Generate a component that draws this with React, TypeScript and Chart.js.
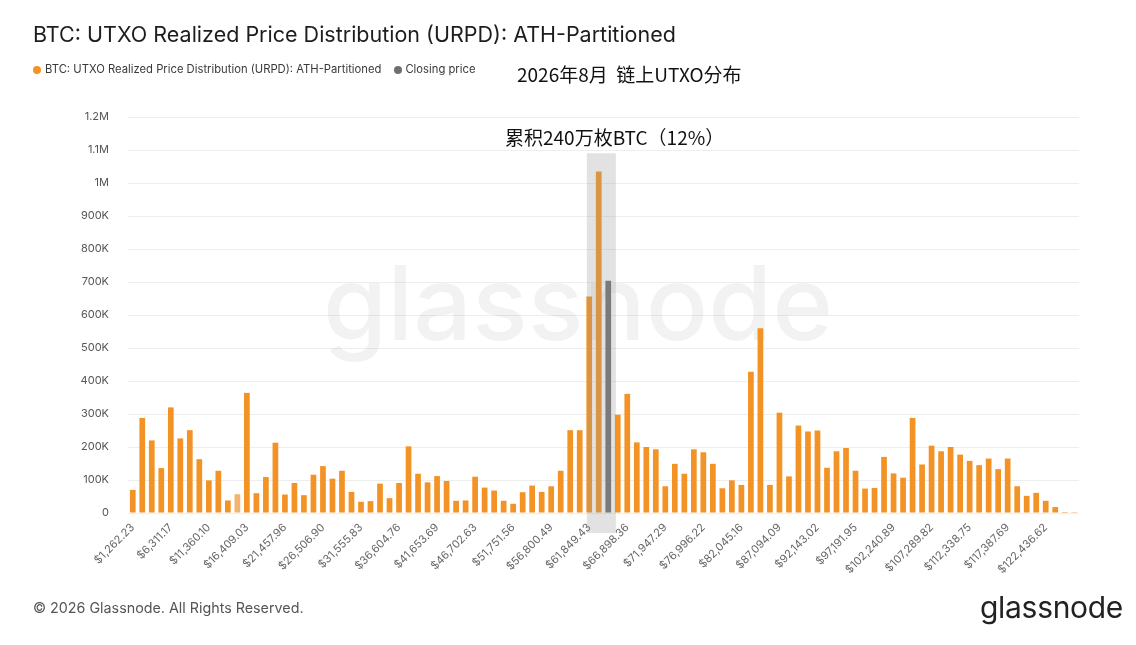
import React, { useEffect, useRef } from "react";
import { Chart, registerables } from "chart.js";

Chart.register(...registerables);

// URPD bins (100 bins from $0 to ATH), supply in BTC per bin
const URPD_VALUES: number[] = [
  70000, 288000, 220000, 136000, 320000, 226000, 251000, 163000, 99000, 128000,
  38000, 57000, 364000, 60000, 109000, 213000, 56000, 91000, 54000, 116000,
  142000, 104000, 128000, 64000, 34000, 36000, 89000, 45000, 91000, 202000,
  119000, 93000, 112000, 97000, 37000, 38000, 110000, 77000, 68000, 37000,
  28000, 63000, 83000, 64000, 81000, 128000, 251000, 251000, 656000, 1035000,
  704000, 298000, 361000, 214000, 200000, 193000, 81000, 149000, 119000, 193000,
  184000, 149000, 75000, 99000, 85000, 428000, 560000, 85000, 304000, 111000,
  265000, 247000, 250000, 137000, 187000, 197000, 128000, 74000, 76000, 170000,
  120000, 107000, 288000, 147000, 204000, 187000, 200000, 177000, 158000, 145000,
  165000, 133000, 165000, 81000, 52000, 61000, 37000, 18000, 3000, 500,
];

// index of the bin holding the closing price
const CLOSING_INDEX = 50;

// x tick labels, one every 4 bins
const TICK_LABELS: string[] = [
  "$1,262.23", "$6,311.17", "$11,360.10", "$16,409.03", "$21,457.96",
  "$26,506.90", "$31,555.83", "$36,604.76", "$41,653.69", "$46,702.63",
  "$51,751.56", "$56,800.49", "$61,849.43", "$66,898.36", "$71,947.29",
  "$76,996.22", "$82,045.16", "$87,094.09", "$92,143.02", "$97,191.95",
  "$102,240.89", "$107,289.82", "$112,338.75", "$117,387.69", "$122,436.62",
];
const TICK_EVERY = 4;

// highlighted bins (annotation band)
const BAND_FROM = 48;
const BAND_TO = 50;

const TITLE = "BTC: UTXO Realized Price Distribution (URPD): ATH-Partitioned";
const LEGEND_URPD = "BTC: UTXO Realized Price Distribution (URPD): ATH-Partitioned";
const LEGEND_CLOSE = "Closing price";
const NOTE_TOP = "2026年8月  链上UTXO分布";
const NOTE_BAND = "累积240万枚BTC（12%）";

const ORANGE = "#F39325";
const ORANGE_LIGHT = "#F3B46E";
const GREY = "#6F6F6F";

const FONT = "Inter, 'Noto Sans', sans-serif";
const CJK = "'Noto Sans CJK SC', 'Noto Sans', sans-serif";

const categories = URPD_VALUES.map((_, i) => String(i));

function fmtY(v: number): string {
  if (v === 0) return "0";
  if (v >= 1000000) return (v / 1000000).toString() + "M";
  return Math.round(v / 1000) + "K";
}

export default function App() {
  const ref = useRef<HTMLCanvasElement | null>(null);

  useEffect(() => {
    if (!ref.current) return;
    const orange = URPD_VALUES.map((v, i) => (i === CLOSING_INDEX ? null : v));
    const grey = URPD_VALUES.map((v, i) => (i === CLOSING_INDEX ? v : null));

    const watermark = {
      id: "watermark",
      beforeDatasetsDraw(chart: any) {
        const { ctx } = chart;
        ctx.save();
        ctx.font = `500 100px ${FONT}`;
        const w = ctx.measureText("glassnode").width;
        const size = (100 * 510) / w;
        ctx.font = `500 ${size}px ${FONT}`;
        ctx.fillStyle = "rgba(0,0,0,0.05)";
        ctx.textAlign = "center";
        ctx.textBaseline = "alphabetic";
        ctx.fillText("glassnode", 578, 340);
        ctx.restore();
      },
    };

    const band = {
      id: "band",
      afterDatasetsDraw(chart: any) {
        const { ctx } = chart;
        const xs = chart.scales.x;
        const ys = chart.scales.y;
        const step = xs.getPixelForValue(1) - xs.getPixelForValue(0);
        const x0 = xs.getPixelForValue(BAND_FROM) - step * 0.25;
        const x1 = xs.getPixelForValue(BAND_TO) + step * 0.8;
        const y0 = ys.getPixelForValue(1090000);
        const y1 = ys.getPixelForValue(0) + 20;
        ctx.save();
        ctx.fillStyle = "rgba(150,150,150,0.28)";
        ctx.fillRect(x0, y0, x1 - x0, y1 - y0);
        ctx.restore();
      },
    };

    const chart = new Chart(ref.current, {
      type: "bar",
      data: {
        labels: categories,
        datasets: [
          {
            label: LEGEND_URPD,
            data: orange,
            backgroundColor: URPD_VALUES.map((_, i) => (i === 11 ? ORANGE_LIGHT : ORANGE)),
            barPercentage: 0.6,
            categoryPercentage: 1,
            grouped: false,
          } as any,
          {
            label: LEGEND_CLOSE,
            data: grey,
            backgroundColor: GREY,
            barPercentage: 0.6,
            categoryPercentage: 1,
            grouped: false,
          } as any,
        ],
      },
      options: {
        animation: false,
        responsive: false,
        maintainAspectRatio: false,
        layout: { padding: { left: 0, right: 57, top: 117, bottom: 0 } },
        plugins: {
          legend: { display: false },
          tooltip: { enabled: false },
          title: { display: false },
        },
        scales: {
          x: {
            type: "category",
            offset: true,
            grid: { display: false, drawTicks: false },
            border: { display: false },
            ticks: {
              autoSkip: false,
              maxRotation: 45,
              minRotation: 45,
              padding: 8,
              color: "#666",
              font: { family: FONT, size: 11 },
              callback: (_v: any, i: number) =>
                i % TICK_EVERY === 0 ? TICK_LABELS[i / TICK_EVERY] ?? "" : "",
            },
            afterFit: (s: any) => {
              s.height = 132;
            },
          },
          y: {
            min: 0,
            max: 1200000,
            grid: { color: "#eeeeee", drawTicks: false },
            border: { display: false },
            ticks: {
              stepSize: 100000,
              padding: 19,
              color: "#555",
              font: { family: FONT, size: 11 },
              callback: (v: any) => fmtY(Number(v)),
            },
            afterFit: (s: any) => {
              s.width = 128;
            },
          },
        },
      },
      plugins: [watermark, band],
    });
    return () => chart.destroy();
  }, []);

  const abs = (extra: React.CSSProperties): React.CSSProperties => ({
    position: "absolute",
    whiteSpace: "pre",
    lineHeight: 1,
    ...extra,
  });

  return (
    <div
      style={{
        position: "absolute",
        left: 0,
        top: 0,
        width: 1136,
        height: 645,
        background: "#fff",
        overflow: "hidden",
        fontFamily: FONT,
      }}
    >
      <canvas ref={ref} width={1136} height={645} style={{ position: "absolute", left: 0, top: 0, width: 1136, height: 645 }} />
      <div style={abs({ left: 33, top: 24, fontSize: 21.5, color: "#1d1d1d" })}>{TITLE}</div>
      <div style={abs({ left: 33, top: 64, fontSize: 11.25, color: "#3a3a3a", display: "flex", alignItems: "center" })}>
        <span style={{ width: 8, height: 8, borderRadius: 4, background: ORANGE, display: "inline-block", marginRight: 4 }} />
        <span>{LEGEND_URPD}</span>
        <span style={{ width: 8, height: 8, borderRadius: 4, background: GREY, display: "inline-block", marginLeft: 13, marginRight: 3 }} />
        <span>{LEGEND_CLOSE}</span>
      </div>
      <div style={abs({ left: 517, top: 64, fontSize: 19, color: "#111", fontFamily: CJK })}>{NOTE_TOP}</div>
      <div style={abs({ left: 505, top: 127, fontSize: 19, color: "#111", fontFamily: CJK })}>{NOTE_BAND}</div>
      <div style={abs({ left: 33, top: 601, fontSize: 14.3, color: "#555" })}>© 2026 Glassnode. All Rights Reserved.</div>
      <div style={abs({ left: 980, top: 592, fontSize: 30, color: "#222", letterSpacing: -0.3 })}>glassnode</div>
    </div>
  );
}
